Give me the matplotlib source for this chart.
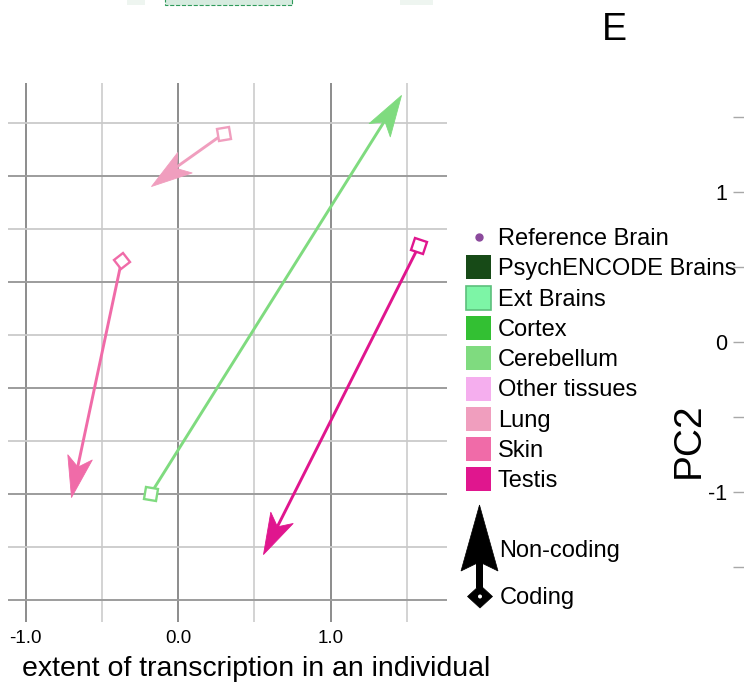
import numpy as np
import matplotlib.pyplot as plt
from matplotlib.markers import MarkerStyle
from matplotlib.path import Path
from matplotlib.patches import Rectangle, Polygon, Circle
from matplotlib.transforms import Affine2D

plt.rcParams['font.family'] = ['Liberation Sans', 'DejaVu Sans']

W, H, DPI = 744, 688, 100

# --- data: each tissue goes from its coding point (diamond) to its non-coding point (arrow tip)
tissues = ['Lung', 'Skin', 'Cerebellum', 'Testis']
coding_x = [0.30, -0.37, -0.18, 1.58]
coding_y = [2.40, 1.20, -1.00, 1.34]
noncoding_x = [-0.18, -0.70, 1.46, 0.56]
noncoding_y = [1.91, -1.03, 2.76, -1.57]
tissue_colors = ['#F09EBE', '#F06BA8', '#7FDB7F', '#E0168E']
diamond_angle = [10, 35, -12, -20]

legend_labels = ['PsychENCODE Brains', 'Ext Brains', 'Cortex', 'Cerebellum',
                 'Other tissues', 'Lung', 'Skin', 'Testis']
legend_colors = ['#174A17', '#7DF5A6', '#33C033', '#7FDB7F',
                 '#F5AEEE', '#F09EBE', '#F06BA8', '#E0168E']
legend_edges = ['none', '#5CBF7C', 'none', 'none', 'none', 'none', 'none', 'none']

x_ticks = [-1.0, 0.0, 1.0]
x_ticklabels = ['-1.0', '0.0', '1.0']
x_minor = [-0.5, 0.5, 1.5]
y_major = [-2, -1, 0, 1, 2]
y_minor = [-1.5, -0.5, 0.5, 1.5, 2.5]

pc2_ticks = [-1.5, -1.0, -0.5, 0.0, 0.5, 1.0, 1.5]
pc2_labels = ['', '-1', '', '0', '', '1', '']


def fx(px):
    return px / W


def fy(py):
    return 1 - py / H


fig = plt.figure(figsize=(W / DPI, H / DPI), dpi=DPI)

# main panel
ax = fig.add_axes([fx(8), fy(622), (447 - 8) / W, (622 - 83) / H])
ax.set_xlim(-1.115, 1.764)
ax.set_ylim(-2.208, 2.877)
ax.set_xticks(x_ticks)
ax.set_xticklabels(x_ticklabels)
ax.set_xticks(x_minor, minor=True)
ax.set_yticks(y_major)
ax.set_yticks(y_minor, minor=True)
ax.grid(which='major', axis='x', color='#8c8c8c', lw=1.4)
ax.grid(which='minor', axis='x', color='#d0d0d0', lw=1.3)
ax.grid(which='major', axis='y', color='#9c9c9c', lw=1.4)
ax.grid(which='minor', axis='y', color='#cacaca', lw=1.3)
ax.tick_params(which='both', length=0)
ax.tick_params(axis='x', labelsize=13.5, pad=6)
ax.tick_params(axis='y', labelleft=False)
for s in ax.spines.values():
    s.set_visible(False)
ax.set_axisbelow(True)

# barbed arrow head, in pixels, tip at origin pointing +x
head_len, head_half, notch = 41, 12.5, 31
head_path = Path([(0, 0), (-head_len, head_half), (-notch, 0), (-head_len, -head_half), (0, 0)],
                 [Path.MOVETO, Path.LINETO, Path.LINETO, Path.LINETO, Path.CLOSEPOLY])
head_ms = 2 * head_len * 72 / DPI

for i, name in enumerate(tissues):
    c = tissue_colors[i]
    p0 = ax.transData.transform((coding_x[i], coding_y[i]))
    p1 = ax.transData.transform((noncoding_x[i], noncoding_y[i]))
    d = p1 - p0
    u = d / np.hypot(*d)
    ang = np.degrees(np.arctan2(d[1], d[0]))
    shaft_end = ax.transData.inverted().transform(p1 - u * (notch - 2))
    ax.plot([coding_x[i], shaft_end[0]], [coding_y[i], shaft_end[1]], color=c, lw=2.1,
            solid_capstyle='butt', zorder=3)
    ax.plot(noncoding_x[i], noncoding_y[i], linestyle='none',
            marker=MarkerStyle(head_path, transform=Affine2D().rotate_deg(ang)),
            ms=head_ms, mfc=c, mec=c, mew=0.6, zorder=4)
    ax.plot(coding_x[i], coding_y[i], linestyle='none',
            marker=MarkerStyle('s', transform=Affine2D().rotate_deg(diamond_angle[i])),
            ms=8.5, mfc='white', mec=c, mew=1.7, zorder=5)

# right-hand PC2 axis of the neighbouring panel
ax2 = fig.add_axes([1.0, 0.0, 0.05, 1.0])
ax2.set_ylim(-(H - 342.3) / 150, 342.3 / 150)
ax2.set_xticks([])
ax2.set_yticks(pc2_ticks)
ax2.set_yticklabels(pc2_labels)
ax2.tick_params(axis='y', length=8, width=1.0, color='#a8a8a8', labelsize=15.5, pad=4)
for s in ax2.spines.values():
    s.set_visible(False)
ax2.patch.set_visible(False)

# overlay in pixel coordinates for legend and loose texts
ov = fig.add_axes([0, 0, 1, 1])
ov.set_xlim(0, W)
ov.set_ylim(H, 0)
ov.axis('off')

# fragments of the panel above
ov.add_patch(Rectangle((127, -1), 18, 6, fc='#EEF5F0', ec='none'))
ov.add_patch(Rectangle((165, -3), 127, 8, fc='#D6EBDF', ec='#2E9A5A', ls='--', lw=0.8))
ov.add_patch(Rectangle((400, -1), 33, 6, fc='#EEF5F0', ec='none'))

ov.text(614, 39.5, 'E', ha='center', va='baseline', fontsize=27)

# legend
row0, row_step = 237, 30.3
ov.plot(479, row0, 'o', ms=5, color='#8B4A9C')
ov.text(498, row0 + 8, 'Reference Brain', fontsize=17, va='baseline')
for i, (lab, col, ec) in enumerate(zip(legend_labels, legend_colors, legend_edges)):
    yc = row0 + row_step * (i + 1)
    ov.add_patch(Rectangle((466, yc - 12), 25, 24, fc=col, ec=ec, lw=1.2))
    ov.text(498, yc + 8, lab, fontsize=17, va='baseline')

# legend arrow: diamond = coding, arrow head = non-coding
ov.add_patch(Polygon([(479.5, 505), (461, 571), (479.5, 562), (498, 571)], closed=True,
                     fc='black', ec='black', lw=0.5))
ov.add_patch(Rectangle((476, 560), 7, 28, fc='black', ec='none'))
ov.add_patch(Polygon([(480, 585), (492.5, 596.5), (480, 608), (467.5, 596.5)], closed=True,
                     fc='black', ec='black', lw=0.5))
ov.add_patch(Circle((480, 596.5), 2.0, fc='white', ec='none'))
ov.text(499, 557, 'Non-coding', fontsize=17, va='baseline')
ov.text(500, 604, 'Coding', fontsize=17, va='baseline')

ov.text(689, 440, 'PC2', rotation=90, ha='center', va='center', fontsize=28)
ov.text(490, 676, 'extent of transcription in an individual', ha='right', va='baseline',
        fontsize=20.5)

fig.savefig('out.png', dpi=DPI)
